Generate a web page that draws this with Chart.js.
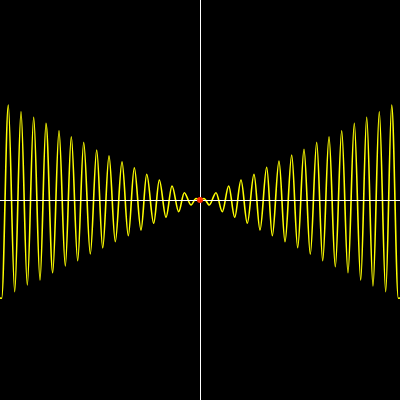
<!DOCTYPE html>
<html>
<head>
<meta charset="utf-8">
<script src="https://cdn.jsdelivr.net/npm/chart.js@4/dist/chart.umd.min.js"></script>
<style>
  html, body { margin: 0; padding: 0; background: #000; }
  canvas { display: block; }
</style>
</head>
<body>
<canvas id="wave" width="400" height="400"></canvas>
<script>
// turning points of the yellow curve (x left to right, y up)
const waveX = [
  -200, -198.3, -191.7, -185.3, -179, -172.7, -166.3, -160, -154, -147.3, -141,
  -134.7, -128.7, -122.3, -116.3, -109.7, -103.3, -97.3, -91, -84.7, -78,
  -71.7, -65.7, -59, -53.3, -46.3, -40.7, -34, -28, -21.3, -15.7, -9, -4, 0,
  4, 9.3, 16, 22.3, 28.7, 34.7, 41, 47.3, 54, 60, 66.7, 72.3, 79, 85, 91.7,
  97.7, 104, 110.3, 116.7, 122.7, 129, 135.3, 141.7, 148, 154.3, 160.7,
  166.7, 173, 179.3, 185.7, 191.7, 198.3, 200
];
const waveY = [
  -98, -98.3, 95, -91.7, 88.3, -85, 82.7, -80, 76.7, -72.7, 69.3,
  -66, 63.3, -60.7, 57.7, -54, 50, -48, 44.3, -41.7, 38.3,
  -35.7, 32.3, -30, 25.7, -23.3, 20, -17.3, 14, -11.7, 7.3, -5, 1.5, 0,
  1.5, -5, 7.3, -11.7, 14, -17.3, 20, -23.3, 25.7, -30, 32.7, -35.7, 39, -41.7, 45,
  -47.7, 50.7, -54.3, 57.7, -60.7, 63.3, -66.7, 69.3, -72.7, 76.7, -80,
  82.7, -86, 88.3, -91.7, 95, -98.3, -98
];
const originX = [0];
const originY = [0];

const wavePoints = waveX.map((x, i) => ({ x: x, y: waveY[i] }));
const originPoints = originX.map((x, i) => ({ x: x, y: originY[i] }));

// white axes through zero, drawn over the curve but under the red dot
const axesPlugin = {
  id: 'axes',
  afterDatasetDraw(chart, args) {
    if (args.index !== 0) return;
    const ctx = chart.ctx;
    const xs = chart.scales.x;
    const ys = chart.scales.y;
    const px = Math.round(xs.getPixelForValue(0)) + 0.5;
    const py = Math.round(ys.getPixelForValue(0)) + 0.5;
    ctx.save();
    ctx.strokeStyle = '#ffffff';
    ctx.lineWidth = 1;
    ctx.beginPath();
    ctx.moveTo(0, py);
    ctx.lineTo(chart.width, py);
    ctx.moveTo(px, 0);
    ctx.lineTo(px, chart.height);
    ctx.stroke();
    ctx.restore();
  }
};

new Chart(document.getElementById('wave'), {
  type: 'line',
  data: {
    datasets: [
      {
        data: wavePoints,
        order: 1,
        borderColor: '#ffff00',
        borderWidth: 1.6,
        pointRadius: 0,
        cubicInterpolationMode: 'monotone',
        fill: false
      },
      {
        data: originPoints,
        order: 0,
        showLine: false,
        pointRadius: 3,
        pointBackgroundColor: '#ff2a00',
        pointBorderColor: '#ff2a00',
        pointBorderWidth: 0
      }
    ]
  },
  options: {
    responsive: false,
    animation: false,
    layout: { padding: 0, autoPadding: false },
    plugins: {
      legend: { display: false },
      tooltip: { enabled: false }
    },
    scales: {
      x: { type: 'linear', min: -200, max: 200, display: false },
      y: { type: 'linear', min: -200, max: 200, display: false }
    }
  },
  plugins: [axesPlugin]
});
</script>
</body>
</html>
